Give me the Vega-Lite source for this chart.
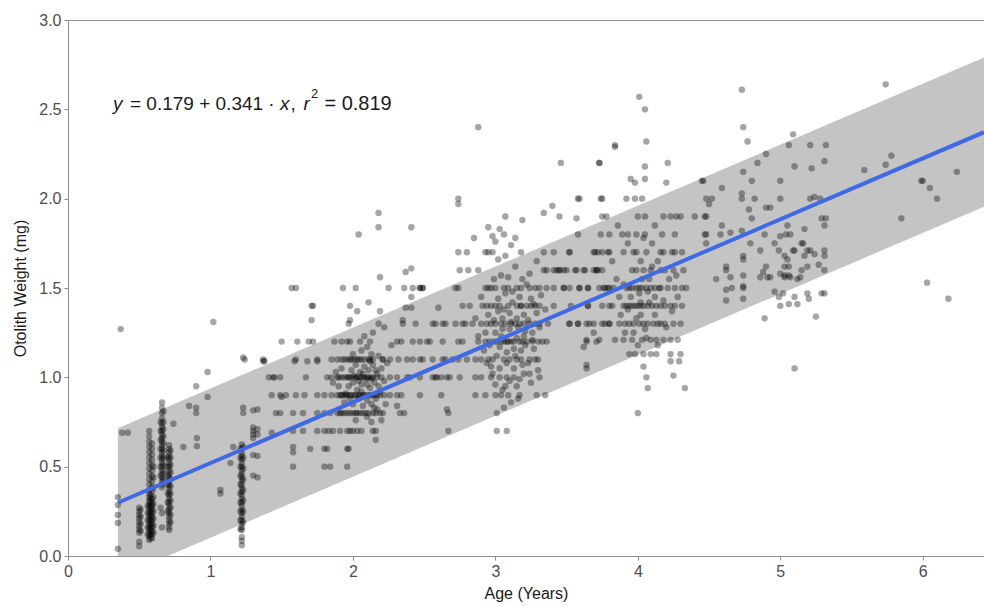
{
"$schema": "https://vega.github.io/schema/vega-lite/v6.json",
"width": 916, "height": 536,
"autosize": {"type": "none"},
"padding": {"left": 68, "top": 20, "right": 0, "bottom": 50},
"background": "white",
"config": {"view": {"stroke": "#8c8c8c", "strokeWidth": 1}, "font": "Liberation Sans"},
"datasets": {
"band": [{"age":0.35,"lo":0,"hi":0.715},{"age":0.70,"lo":0,"hi":0.835},{"age":6.43,"lo":1.955,"hi":2.79}],
"fit": [{"age":0.35,"fit":0.298},{"age":6.43,"fit":2.372}],
"one": [{"k":1}],
"pts": [
{"age":0.35,"wt":0.33},{"age":0.35,"wt":0.285},{"age":0.35,"wt":0.23},{"age":0.35,"wt":0.185},{"age":0.35,"wt":0.04},{"age":0.37,"wt":1.27},{"age":0.38,"wt":0.69},{"age":0.42,"wt":0.69},
{"age":0.50,"wt":0.27},{"age":0.50,"wt":0.25},{"age":0.50,"wt":0.23},{"age":0.50,"wt":0.21},{"age":0.50,"wt":0.19},{"age":0.50,"wt":0.17},{"age":0.50,"wt":0.15},{"age":0.50,"wt":0.13},{"age":0.51,"wt":0.26},{"age":0.51,"wt":0.22},{"age":0.51,"wt":0.18},{"age":0.51,"wt":0.14},{"age":0.50,"wt":0.08},{"age":0.50,"wt":0.055},
{"age":0.57,"wt":0.09},{"age":0.57,"wt":0.11},{"age":0.57,"wt":0.13},{"age":0.57,"wt":0.15},{"age":0.57,"wt":0.17},{"age":0.57,"wt":0.19},{"age":0.57,"wt":0.21},{"age":0.57,"wt":0.23},{"age":0.57,"wt":0.25},{"age":0.57,"wt":0.27},{"age":0.57,"wt":0.29},{"age":0.57,"wt":0.31},{"age":0.57,"wt":0.33},{"age":0.57,"wt":0.35},{"age":0.57,"wt":0.37},{"age":0.57,"wt":0.40},{"age":0.57,"wt":0.43},{"age":0.57,"wt":0.46},{"age":0.57,"wt":0.49},{"age":0.57,"wt":0.52},{"age":0.57,"wt":0.55},{"age":0.57,"wt":0.58},{"age":0.57,"wt":0.61},{"age":0.57,"wt":0.64},{"age":0.57,"wt":0.67},{"age":0.57,"wt":0.70},
{"age":0.59,"wt":0.10},{"age":0.59,"wt":0.12},{"age":0.59,"wt":0.14},{"age":0.59,"wt":0.16},{"age":0.59,"wt":0.18},{"age":0.59,"wt":0.20},{"age":0.59,"wt":0.22},{"age":0.59,"wt":0.24},{"age":0.59,"wt":0.26},{"age":0.59,"wt":0.28},{"age":0.59,"wt":0.30},{"age":0.59,"wt":0.32},{"age":0.59,"wt":0.36},{"age":0.59,"wt":0.39},{"age":0.59,"wt":0.42},{"age":0.59,"wt":0.45},{"age":0.59,"wt":0.48},{"age":0.59,"wt":0.51},{"age":0.59,"wt":0.54},{"age":0.59,"wt":0.57},{"age":0.59,"wt":0.60},{"age":0.59,"wt":0.63},
{"age":0.60,"wt":0.13},{"age":0.60,"wt":0.17},{"age":0.60,"wt":0.21},{"age":0.60,"wt":0.25},{"age":0.60,"wt":0.29},{"age":0.60,"wt":0.33},{"age":0.60,"wt":0.38},{"age":0.60,"wt":0.44},{"age":0.60,"wt":0.50},
{"age":0.58,"wt":0.10},{"age":0.58,"wt":0.12},{"age":0.58,"wt":0.14},{"age":0.58,"wt":0.16},{"age":0.58,"wt":0.18},{"age":0.58,"wt":0.20},{"age":0.58,"wt":0.22},{"age":0.58,"wt":0.24},{"age":0.58,"wt":0.26},{"age":0.58,"wt":0.28},{"age":0.58,"wt":0.30},{"age":0.58,"wt":0.32},{"age":0.58,"wt":0.34},{"age":0.56,"wt":0.12},{"age":0.56,"wt":0.16},{"age":0.56,"wt":0.20},{"age":0.56,"wt":0.24},{"age":0.56,"wt":0.28},
{"age":0.66,"wt":0.86},{"age":0.66,"wt":0.83},{"age":0.66,"wt":0.80},{"age":0.66,"wt":0.77},{"age":0.66,"wt":0.74},{"age":0.66,"wt":0.72},{"age":0.66,"wt":0.70},{"age":0.66,"wt":0.68},{"age":0.66,"wt":0.66},{"age":0.66,"wt":0.64},{"age":0.66,"wt":0.62},{"age":0.66,"wt":0.60},{"age":0.66,"wt":0.58},{"age":0.66,"wt":0.56},{"age":0.66,"wt":0.54},{"age":0.66,"wt":0.52},{"age":0.66,"wt":0.50},{"age":0.66,"wt":0.48},{"age":0.66,"wt":0.46},{"age":0.66,"wt":0.44},{"age":0.66,"wt":0.42},{"age":0.66,"wt":0.40},{"age":0.66,"wt":0.385},
{"age":0.67,"wt":0.81},{"age":0.67,"wt":0.75},{"age":0.67,"wt":0.71},{"age":0.67,"wt":0.67},{"age":0.67,"wt":0.63},{"age":0.67,"wt":0.59},{"age":0.67,"wt":0.55},{"age":0.67,"wt":0.51},{"age":0.67,"wt":0.47},{"age":0.67,"wt":0.43},{"age":0.66,"wt":0.24},{"age":0.66,"wt":0.16},{"age":0.65,"wt":0.27},
{"age":0.65,"wt":0.45},{"age":0.65,"wt":0.50},{"age":0.65,"wt":0.55},{"age":0.65,"wt":0.60},{"age":0.65,"wt":0.65},{"age":0.65,"wt":0.70},{"age":0.65,"wt":0.75},
{"age":0.71,"wt":0.62},{"age":0.71,"wt":0.60},{"age":0.71,"wt":0.58},{"age":0.71,"wt":0.56},{"age":0.71,"wt":0.54},{"age":0.71,"wt":0.52},{"age":0.71,"wt":0.50},{"age":0.71,"wt":0.48},{"age":0.71,"wt":0.46},{"age":0.71,"wt":0.44},{"age":0.71,"wt":0.42},{"age":0.71,"wt":0.40},{"age":0.71,"wt":0.38},{"age":0.71,"wt":0.36},{"age":0.71,"wt":0.34},{"age":0.71,"wt":0.32},{"age":0.71,"wt":0.30},{"age":0.71,"wt":0.28},{"age":0.71,"wt":0.26},{"age":0.71,"wt":0.24},{"age":0.71,"wt":0.22},{"age":0.71,"wt":0.20},{"age":0.71,"wt":0.18},{"age":0.71,"wt":0.16},{"age":0.71,"wt":0.145},
{"age":0.72,"wt":0.59},{"age":0.72,"wt":0.55},{"age":0.72,"wt":0.51},{"age":0.72,"wt":0.47},{"age":0.72,"wt":0.43},{"age":0.72,"wt":0.39},{"age":0.72,"wt":0.35},{"age":0.72,"wt":0.31},{"age":0.72,"wt":0.27},{"age":0.72,"wt":0.23},{"age":0.72,"wt":0.19},
{"age":0.70,"wt":0.25},{"age":0.70,"wt":0.30},{"age":0.70,"wt":0.35},{"age":0.70,"wt":0.40},{"age":0.70,"wt":0.45},{"age":0.70,"wt":0.50},{"age":0.70,"wt":0.55},
{"age":0.74,"wt":0.74},{"age":0.81,"wt":0.61},{"age":0.905,"wt":0.66},{"age":0.905,"wt":0.615},{"age":0.85,"wt":0.84},{"age":0.90,"wt":0.83},{"age":0.90,"wt":0.80},{"age":0.98,"wt":1.03},{"age":0.98,"wt":0.89},{"age":0.90,"wt":0.95},{"age":1.02,"wt":1.31},{"age":1.07,"wt":0.37},{"age":1.07,"wt":0.35},
{"age":1.22,"wt":0.625},{"age":1.22,"wt":0.60},{"age":1.22,"wt":0.58},{"age":1.22,"wt":0.56},{"age":1.22,"wt":0.54},{"age":1.22,"wt":0.52},{"age":1.22,"wt":0.50},{"age":1.22,"wt":0.48},{"age":1.22,"wt":0.46},{"age":1.22,"wt":0.44},{"age":1.22,"wt":0.42},{"age":1.22,"wt":0.40},{"age":1.22,"wt":0.38},{"age":1.22,"wt":0.36},{"age":1.22,"wt":0.34},{"age":1.22,"wt":0.32},{"age":1.22,"wt":0.30},{"age":1.22,"wt":0.28},{"age":1.22,"wt":0.26},{"age":1.22,"wt":0.24},{"age":1.22,"wt":0.22},{"age":1.22,"wt":0.20},{"age":1.22,"wt":0.18},{"age":1.22,"wt":0.16},{"age":1.22,"wt":0.145},{"age":1.22,"wt":0.105},{"age":1.22,"wt":0.085},{"age":1.22,"wt":0.06},
{"age":1.23,"wt":0.61},{"age":1.23,"wt":0.55},{"age":1.23,"wt":0.49},{"age":1.23,"wt":0.43},{"age":1.23,"wt":0.37},{"age":1.23,"wt":0.31},{"age":1.23,"wt":0.25},{"age":1.23,"wt":0.19},
{"age":1.21,"wt":0.15},{"age":1.21,"wt":0.20},{"age":1.21,"wt":0.25},{"age":1.21,"wt":0.30},{"age":1.21,"wt":0.35},{"age":1.21,"wt":0.40},{"age":1.21,"wt":0.45},{"age":1.21,"wt":0.50},{"age":1.21,"wt":0.55},{"age":1.21,"wt":0.60},
{"age":1.23,"wt":0.83},{"age":1.23,"wt":0.80},{"age":1.23,"wt":1.11},{"age":1.24,"wt":1.10},{"age":1.16,"wt":0.61},{"age":1.14,"wt":0.52},
{"age":1.30,"wt":0.72},{"age":1.30,"wt":0.70},{"age":1.30,"wt":0.68},{"age":1.30,"wt":0.66},{"age":1.30,"wt":0.565},{"age":1.30,"wt":0.45},{"age":1.30,"wt":0.815},
{"age":1.37,"wt":1.09},{"age":1.43,"wt":0.69},{"age":1.58,"wt":0.61},{"age":1.58,"wt":0.58},{"age":1.70,"wt":0.60},{"age":1.45,"wt":1.0},{"age":1.50,"wt":0.89},{"age":1.50,"wt":1.20},{"age":1.61,"wt":1.20},{"age":1.69,"wt":1.2},{"age":1.72,"wt":1.2},{"age":1.72,"wt":1.40},{"age":1.59,"wt":1.09},{"age":1.68,"wt":1.09},{"age":1.75,"wt":1.09},{"age":1.57,"wt":1.50},
{"age":1.58,"wt":0.5},{"age":1.80,"wt":0.5},{"age":1.84,"wt":0.5},{"age":1.96,"wt":0.5},
{"age":1.80,"wt":0.6},{"age":1.82,"wt":0.6},{"age":1.96,"wt":0.6},{"age":1.97,"wt":0.6},
{"age":1.58,"wt":0.7},{"age":1.65,"wt":0.7},{"age":1.75,"wt":0.7},{"age":1.80,"wt":0.7},{"age":1.83,"wt":0.7},{"age":1.86,"wt":0.7},{"age":1.91,"wt":0.7},{"age":1.96,"wt":0.7},{"age":1.98,"wt":0.7},{"age":2.00,"wt":0.7},{"age":2.03,"wt":0.7},{"age":2.06,"wt":0.7},{"age":2.14,"wt":0.7},
{"age":1.46,"wt":0.8},{"age":1.49,"wt":0.8},{"age":1.58,"wt":0.8},{"age":1.65,"wt":0.8},{"age":1.75,"wt":0.8},{"age":1.80,"wt":0.8},{"age":1.84,"wt":0.8},{"age":1.89,"wt":0.8},{"age":1.91,"wt":0.8},{"age":1.94,"wt":0.8},{"age":1.98,"wt":0.8},{"age":2.00,"wt":0.8},{"age":2.03,"wt":0.8},{"age":2.05,"wt":0.8},{"age":2.07,"wt":0.8},{"age":2.11,"wt":0.8},{"age":2.14,"wt":0.8},{"age":2.19,"wt":0.8},{"age":2.21,"wt":0.8},{"age":2.33,"wt":0.8},
{"age":1.43,"wt":0.9},{"age":1.49,"wt":0.9},{"age":1.53,"wt":0.9},{"age":1.60,"wt":0.9},{"age":1.66,"wt":0.9},{"age":1.75,"wt":0.9},{"age":1.80,"wt":0.9},{"age":1.85,"wt":0.9},{"age":1.89,"wt":0.9},{"age":1.91,"wt":0.9},{"age":1.93,"wt":0.9},{"age":1.96,"wt":0.9},{"age":1.98,"wt":0.9},{"age":2.01,"wt":0.9},{"age":2.05,"wt":0.9},{"age":2.08,"wt":0.9},{"age":2.12,"wt":0.9},{"age":2.15,"wt":0.9},{"age":2.19,"wt":0.9},{"age":2.22,"wt":0.9},{"age":2.26,"wt":0.9},{"age":2.31,"wt":0.9},{"age":2.34,"wt":0.9},{"age":2.47,"wt":0.9},{"age":2.62,"wt":0.9},
{"age":1.41,"wt":1.0},{"age":1.44,"wt":1.0},{"age":1.49,"wt":1.0},{"age":1.67,"wt":1.0},{"age":1.82,"wt":1.0},{"age":1.85,"wt":1.0},{"age":1.89,"wt":1.0},{"age":1.92,"wt":1.0},{"age":1.96,"wt":1.0},{"age":1.98,"wt":1.0},{"age":2.03,"wt":1.0},{"age":2.06,"wt":1.0},{"age":2.11,"wt":1.0},{"age":2.14,"wt":1.0},{"age":2.20,"wt":1.0},{"age":2.26,"wt":1.0},{"age":2.31,"wt":1.0},{"age":2.38,"wt":1.0},{"age":2.40,"wt":1.0},{"age":2.47,"wt":1.0},{"age":2.56,"wt":1.0},{"age":2.59,"wt":1.0},{"age":2.62,"wt":1.0},{"age":2.66,"wt":1.0},{"age":2.75,"wt":1.0},
{"age":1.37,"wt":1.1},{"age":1.60,"wt":1.1},{"age":1.75,"wt":1.1},{"age":1.85,"wt":1.1},{"age":1.89,"wt":1.1},{"age":1.92,"wt":1.1},{"age":1.96,"wt":1.1},{"age":1.99,"wt":1.1},{"age":2.03,"wt":1.1},{"age":2.06,"wt":1.1},{"age":2.11,"wt":1.1},{"age":2.14,"wt":1.1},{"age":2.21,"wt":1.1},{"age":2.26,"wt":1.1},{"age":2.32,"wt":1.1},{"age":2.38,"wt":1.1},{"age":2.42,"wt":1.1},{"age":2.47,"wt":1.1},{"age":2.49,"wt":1.1},{"age":2.56,"wt":1.1},{"age":2.63,"wt":1.1},{"age":2.70,"wt":1.1},{"age":2.74,"wt":1.1},{"age":2.80,"wt":1.1},
{"age":1.87,"wt":1.2},{"age":1.92,"wt":1.2},{"age":1.96,"wt":1.2},{"age":1.98,"wt":1.2},{"age":2.05,"wt":1.2},{"age":2.12,"wt":1.2},{"age":2.31,"wt":1.2},{"age":2.34,"wt":1.2},{"age":2.42,"wt":1.2},{"age":2.47,"wt":1.2},{"age":2.54,"wt":1.2},{"age":2.63,"wt":1.2},{"age":2.74,"wt":1.2},
{"age":1.97,"wt":1.3},{"age":2.18,"wt":1.3},{"age":2.35,"wt":1.3},{"age":2.44,"wt":1.3},{"age":2.58,"wt":1.3},{"age":2.63,"wt":1.3},{"age":2.72,"wt":1.3},{"age":2.77,"wt":1.3},
{"age":1.60,"wt":1.5},{"age":1.93,"wt":1.5},{"age":2.02,"wt":1.5},{"age":2.25,"wt":1.5},{"age":2.36,"wt":1.5},{"age":2.42,"wt":1.5},{"age":2.47,"wt":1.5},{"age":2.49,"wt":1.5},
{"age":1.97,"wt":0.95},{"age":2.0,"wt":0.97},{"age":2.03,"wt":0.93},{"age":2.06,"wt":0.96},{"age":2.09,"wt":0.99},{"age":2.12,"wt":0.94},{"age":2.15,"wt":0.97},{"age":2.05,"wt":1.03},{"age":2.08,"wt":1.06},{"age":2.11,"wt":1.04},{"age":2.14,"wt":1.07},{"age":2.17,"wt":1.02},{"age":2.02,"wt":1.07},{"age":1.99,"wt":1.04},{"age":2.10,"wt":0.87},{"age":2.13,"wt":0.85},{"age":2.07,"wt":0.84},{"age":2.16,"wt":0.88},{"age":2.19,"wt":0.92},{"age":2.20,"wt":1.05},{"age":2.22,"wt":0.98},{"age":2.04,"wt":0.88},{"age":1.94,"wt":0.86},{"age":1.92,"wt":1.05},{"age":2.00,"wt":1.13},{"age":2.06,"wt":1.15},{"age":2.13,"wt":1.13},{"age":2.18,"wt":1.12},{"age":2.24,"wt":1.08},{"age":2.23,"wt":0.85},{"age":2.17,"wt":0.82},{"age":2.10,"wt":0.78},{"age":2.02,"wt":0.76},{"age":2.13,"wt":0.75},{"age":2.20,"wt":0.76},{"age":1.90,"wt":0.95},{"age":1.88,"wt":1.03},{"age":1.86,"wt":0.97},
{"age":1.92,"wt":0.9},{"age":1.95,"wt":0.9},{"age":1.99,"wt":0.9},{"age":2.02,"wt":0.9},{"age":2.04,"wt":0.9},{"age":2.07,"wt":0.9},{"age":2.10,"wt":0.9},{"age":2.13,"wt":0.9},{"age":2.17,"wt":0.9},
{"age":1.90,"wt":1.0},{"age":1.94,"wt":1.0},{"age":1.97,"wt":1.0},{"age":2.00,"wt":1.0},{"age":2.02,"wt":1.0},{"age":2.05,"wt":1.0},{"age":2.08,"wt":1.0},{"age":2.10,"wt":1.0},{"age":2.13,"wt":1.0},{"age":2.17,"wt":1.0},
{"age":1.94,"wt":1.1},{"age":1.98,"wt":1.1},{"age":2.01,"wt":1.1},{"age":2.04,"wt":1.1},{"age":2.08,"wt":1.1},{"age":2.12,"wt":1.1},
{"age":1.92,"wt":0.8},{"age":1.96,"wt":0.8},{"age":2.02,"wt":0.8},{"age":2.09,"wt":0.8},{"age":2.16,"wt":0.8},
{"age":1.95,"wt":0.91},{"age":1.98,"wt":0.88},{"age":2.01,"wt":1.01},{"age":2.04,"wt":0.98},{"age":2.07,"wt":1.02},{"age":2.10,"wt":0.96},{"age":2.13,"wt":0.99},{"age":2.16,"wt":1.04},{"age":2.18,"wt":0.95},{"age":2.12,"wt":1.09},{"age":2.06,"wt":0.92},{"age":2.00,"wt":0.85},{"age":2.21,"wt":1.10},{"age":2.15,"wt":0.83},
{"age":2.18,"wt":1.92},{"age":2.18,"wt":1.84},{"age":2.04,"wt":1.80},{"age":2.41,"wt":1.84},{"age":2.74,"wt":1.97},{"age":2.19,"wt":1.56},{"age":2.37,"wt":1.59},{"age":2.41,"wt":1.61},{"age":1.71,"wt":1.40},{"age":1.98,"wt":1.40},{"age":2.11,"wt":1.42},{"age":2.03,"wt":1.37},{"age":2.19,"wt":1.37},{"age":1.98,"wt":1.32},{"age":2.35,"wt":1.32},{"age":1.71,"wt":1.32},{"age":2.37,"wt":1.39},{"age":2.41,"wt":1.39},{"age":2.60,"wt":1.39},{"age":2.41,"wt":1.45},{"age":1.33,"wt":0.44},{"age":1.33,"wt":0.56},{"age":1.33,"wt":0.68},{"age":1.33,"wt":0.71},{"age":1.33,"wt":0.82},{"age":1.38,"wt":1.09},{"age":2.67,"wt":0.70},{"age":2.66,"wt":0.82},{"age":2.16,"wt":0.65},{"age":2.16,"wt":0.70},{"age":2.36,"wt":0.80},{"age":2.31,"wt":0.84},{"age":2.14,"wt":1.25},{"age":2.22,"wt":1.28},{"age":2.08,"wt":1.23},{"age":2.27,"wt":1.18},{"age":2.10,"wt":1.17},
{"age":2.74,"wt":1.7},{"age":2.80,"wt":1.7},{"age":2.93,"wt":1.7},{"age":2.95,"wt":1.7},{"age":2.98,"wt":1.7},{"age":3.18,"wt":1.7},{"age":3.34,"wt":1.7},{"age":3.41,"wt":1.7},{"age":3.52,"wt":1.7},{"age":3.69,"wt":1.7},{"age":3.75,"wt":1.7},{"age":3.80,"wt":1.7},
{"age":2.75,"wt":1.6},{"age":2.81,"wt":1.6},{"age":2.88,"wt":1.6},{"age":3.34,"wt":1.6},{"age":3.36,"wt":1.6},{"age":3.41,"wt":1.6},{"age":3.43,"wt":1.6},{"age":3.45,"wt":1.6},{"age":3.50,"wt":1.6},{"age":3.56,"wt":1.6},{"age":3.62,"wt":1.6},{"age":3.69,"wt":1.6},{"age":3.71,"wt":1.6},{"age":3.75,"wt":1.6},
{"age":2.47,"wt":1.5},{"age":2.49,"wt":1.5},{"age":2.72,"wt":1.5},{"age":2.74,"wt":1.5},{"age":2.93,"wt":1.5},{"age":2.95,"wt":1.5},{"age":2.97,"wt":1.5},{"age":3.00,"wt":1.5},{"age":3.06,"wt":1.5},{"age":3.09,"wt":1.5},{"age":3.15,"wt":1.5},{"age":3.18,"wt":1.5},{"age":3.24,"wt":1.5},{"age":3.28,"wt":1.5},{"age":3.31,"wt":1.5},{"age":3.36,"wt":1.5},{"age":3.41,"wt":1.5},{"age":3.48,"wt":1.5},{"age":3.59,"wt":1.5},{"age":3.65,"wt":1.5},{"age":3.73,"wt":1.5},{"age":3.77,"wt":1.5},{"age":3.80,"wt":1.5},
{"age":2.77,"wt":1.4},{"age":2.82,"wt":1.4},{"age":2.91,"wt":1.4},{"age":2.94,"wt":1.4},{"age":2.97,"wt":1.4},{"age":3.03,"wt":1.4},{"age":3.15,"wt":1.4},{"age":3.22,"wt":1.4},{"age":3.28,"wt":1.4},{"age":3.31,"wt":1.4},{"age":3.41,"wt":1.4},{"age":3.53,"wt":1.4},{"age":3.65,"wt":1.4},{"age":3.75,"wt":1.4},{"age":3.82,"wt":1.4},
{"age":2.56,"wt":1.3},{"age":2.65,"wt":1.3},{"age":2.79,"wt":1.3},{"age":2.84,"wt":1.3},{"age":2.90,"wt":1.3},{"age":2.94,"wt":1.3},{"age":2.97,"wt":1.3},{"age":3.04,"wt":1.3},{"age":3.11,"wt":1.3},{"age":3.17,"wt":1.3},{"age":3.24,"wt":1.3},{"age":3.28,"wt":1.3},{"age":3.31,"wt":1.3},{"age":3.37,"wt":1.3},{"age":3.52,"wt":1.3},{"age":3.58,"wt":1.3},{"age":3.66,"wt":1.3},{"age":3.75,"wt":1.3},{"age":3.80,"wt":1.3},
{"age":2.52,"wt":1.2},{"age":2.77,"wt":1.2},{"age":2.88,"wt":1.2},{"age":2.93,"wt":1.2},{"age":2.96,"wt":1.2},{"age":3.01,"wt":1.2},{"age":3.06,"wt":1.2},{"age":3.08,"wt":1.2},{"age":3.13,"wt":1.2},{"age":3.17,"wt":1.2},{"age":3.22,"wt":1.2},{"age":3.30,"wt":1.2},{"age":3.36,"wt":1.2},{"age":3.64,"wt":1.2},{"age":3.71,"wt":1.2},
{"age":2.65,"wt":1.1},{"age":2.86,"wt":1.1},{"age":2.90,"wt":1.1},{"age":2.95,"wt":1.1},{"age":2.98,"wt":1.1},{"age":3.06,"wt":1.1},{"age":3.10,"wt":1.1},{"age":3.15,"wt":1.1},{"age":3.18,"wt":1.1},{"age":3.24,"wt":1.1},{"age":3.30,"wt":1.1},
{"age":2.58,"wt":1.0},{"age":2.68,"wt":1.0},{"age":2.86,"wt":1.0},{"age":2.90,"wt":1.0},{"age":2.97,"wt":1.0},{"age":3.03,"wt":1.0},{"age":3.08,"wt":1.0},{"age":3.13,"wt":1.0},{"age":3.31,"wt":1.0},
{"age":2.86,"wt":0.9},{"age":2.93,"wt":0.9},{"age":3.00,"wt":0.9},{"age":3.04,"wt":0.9},{"age":3.09,"wt":0.9},{"age":3.17,"wt":0.9},{"age":3.29,"wt":0.9},{"age":3.35,"wt":0.9},
{"age":2.67,"wt":0.8},{"age":3.01,"wt":0.8},{"age":3.01,"wt":0.7},{"age":3.08,"wt":0.7},
{"age":2.90,"wt":1.45},{"age":2.95,"wt":1.35},{"age":3.00,"wt":1.25},{"age":3.05,"wt":1.33},{"age":3.10,"wt":1.27},{"age":3.15,"wt":1.22},{"age":3.20,"wt":1.35},{"age":3.25,"wt":1.44},{"age":3.03,"wt":1.17},{"age":3.08,"wt":1.14},{"age":3.13,"wt":1.05},{"age":3.18,"wt":1.15},{"age":3.23,"wt":1.08},{"age":3.27,"wt":1.16},{"age":2.97,"wt":1.06},{"age":2.92,"wt":1.15},{"age":2.88,"wt":1.23},{"age":2.86,"wt":1.33},{"age":3.02,"wt":1.44},{"age":3.07,"wt":1.47},{"age":3.12,"wt":1.42},{"age":3.17,"wt":1.45},{"age":3.21,"wt":1.26},{"age":3.26,"wt":1.25},{"age":3.29,"wt":1.36},{"age":3.32,"wt":1.46},{"age":3.00,"wt":0.96},{"age":3.05,"wt":0.93},{"age":3.10,"wt":0.98},{"age":3.15,"wt":0.95},{"age":3.20,"wt":1.02},{"age":3.25,"wt":0.97},{"age":3.30,"wt":1.04},{"age":3.11,"wt":0.86},{"age":3.06,"wt":0.83},{"age":3.16,"wt":0.88},{"age":2.99,"wt":1.55},{"age":3.04,"wt":1.57},{"age":3.09,"wt":1.56},{"age":3.14,"wt":1.62},{"age":3.19,"wt":1.55},{"age":3.24,"wt":1.58},{"age":3.29,"wt":1.65},{"age":3.02,"wt":1.66},{"age":3.07,"wt":1.68},{"age":3.11,"wt":1.74},{"age":3.00,"wt":1.76},{"age":3.06,"wt":1.80},{"age":3.14,"wt":1.78},{"age":2.95,"wt":1.84},
{"age":2.93,"wt":1.25},{"age":2.96,"wt":1.18},{"age":2.99,"wt":1.32},{"age":3.01,"wt":1.12},{"age":3.04,"wt":1.23},{"age":3.06,"wt":1.38},{"age":3.09,"wt":1.20},{"age":3.11,"wt":1.31},{"age":3.13,"wt":1.16},{"age":3.16,"wt":1.28},{"age":3.18,"wt":1.40},{"age":3.21,"wt":1.18},{"age":3.23,"wt":1.32},{"age":3.26,"wt":1.21},{"age":3.28,"wt":1.10},{"age":3.31,"wt":1.28},{"age":3.03,"wt":1.05},{"age":3.08,"wt":1.08},{"age":3.14,"wt":1.12},{"age":3.19,"wt":1.07},{"age":3.24,"wt":1.02},{"age":2.98,"wt":1.02},{"age":3.07,"wt":0.95},{"age":3.17,"wt":0.99},{"age":3.12,"wt":1.48},{"age":3.22,"wt":1.52},{"age":3.02,"wt":1.37},{"age":3.27,"wt":1.41},{"age":3.33,"wt":1.20},{"age":3.35,"wt":1.38},{"age":2.94,"wt":1.08},{"age":3.10,"wt":1.36},{"age":3.15,"wt":1.33},{"age":3.05,"wt":1.27},{"age":3.20,"wt":1.23},
{"age":2.99,"wt":1.2},{"age":3.04,"wt":1.2},{"age":3.11,"wt":1.2},{"age":3.19,"wt":1.2},{"age":3.26,"wt":1.2},{"age":3.00,"wt":1.3},{"age":3.07,"wt":1.3},{"age":3.14,"wt":1.3},{"age":3.20,"wt":1.3},{"age":3.00,"wt":1.4},{"age":3.09,"wt":1.4},{"age":3.18,"wt":1.4},{"age":3.25,"wt":1.4},
{"age":2.88,"wt":2.40},{"age":3.46,"wt":2.20},{"age":3.73,"wt":2.20},{"age":3.84,"wt":2.29},{"age":2.74,"wt":2.0},{"age":3.07,"wt":1.90},{"age":3.19,"wt":1.88},{"age":3.34,"wt":1.92},{"age":3.40,"wt":1.96},{"age":3.45,"wt":1.90},{"age":3.57,"wt":1.89},{"age":3.58,"wt":2.0},{"age":3.74,"wt":2.0},{"age":2.85,"wt":1.78},{"age":3.03,"wt":1.83},{"age":2.98,"wt":1.79},{"age":3.64,"wt":1.05},{"age":3.62,"wt":1.17},{"age":3.69,"wt":1.25},
{"age":3.45,"wt":1.6},{"age":3.48,"wt":1.6},{"age":3.57,"wt":1.6},{"age":3.63,"wt":1.6},{"age":3.71,"wt":1.6},{"age":3.72,"wt":1.6},{"age":3.99,"wt":1.6},{"age":4.04,"wt":1.6},{"age":4.09,"wt":1.6},{"age":4.16,"wt":1.6},{"age":4.19,"wt":1.6},{"age":4.25,"wt":1.6},{"age":4.32,"wt":1.6},
{"age":3.48,"wt":1.5},{"age":3.52,"wt":1.5},{"age":3.59,"wt":1.5},{"age":3.65,"wt":1.5},{"age":3.76,"wt":1.5},{"age":3.79,"wt":1.5},{"age":3.83,"wt":1.5},{"age":3.92,"wt":1.5},{"age":3.96,"wt":1.5},{"age":3.99,"wt":1.5},{"age":4.03,"wt":1.5},{"age":4.06,"wt":1.5},{"age":4.09,"wt":1.5},{"age":4.16,"wt":1.5},{"age":4.21,"wt":1.5},{"age":4.26,"wt":1.5},{"age":4.31,"wt":1.5},{"age":4.34,"wt":1.5},
{"age":3.65,"wt":1.4},{"age":3.80,"wt":1.4},{"age":3.90,"wt":1.4},{"age":3.92,"wt":1.4},{"age":3.94,"wt":1.4},{"age":3.98,"wt":1.4},{"age":4.00,"wt":1.4},{"age":4.04,"wt":1.4},{"age":4.07,"wt":1.4},{"age":4.16,"wt":1.4},{"age":4.19,"wt":1.4},{"age":4.23,"wt":1.4},{"age":4.26,"wt":1.4},{"age":4.31,"wt":1.4},
{"age":3.52,"wt":1.3},{"age":3.58,"wt":1.3},{"age":3.64,"wt":1.3},{"age":3.69,"wt":1.3},{"age":3.77,"wt":1.3},{"age":3.80,"wt":1.3},{"age":3.87,"wt":1.3},{"age":3.94,"wt":1.3},{"age":3.97,"wt":1.3},{"age":4.01,"wt":1.3},{"age":4.07,"wt":1.3},{"age":4.11,"wt":1.3},{"age":4.16,"wt":1.3},{"age":4.19,"wt":1.3},{"age":4.25,"wt":1.3},{"age":4.30,"wt":1.3},
{"age":3.52,"wt":1.7},{"age":3.70,"wt":1.7},{"age":3.72,"wt":1.7},{"age":3.79,"wt":1.7},{"age":3.90,"wt":1.7},{"age":3.99,"wt":1.7},{"age":4.06,"wt":1.7},{"age":4.16,"wt":1.7},{"age":4.18,"wt":1.7},{"age":4.24,"wt":1.7},{"age":4.26,"wt":1.7},{"age":4.31,"wt":1.7},
{"age":3.58,"wt":1.8},{"age":3.74,"wt":1.8},{"age":3.80,"wt":1.8},{"age":3.89,"wt":1.8},{"age":3.93,"wt":1.8},{"age":3.99,"wt":1.8},{"age":4.05,"wt":1.8},{"age":4.17,"wt":1.8},{"age":4.26,"wt":1.8},
{"age":3.75,"wt":1.9},{"age":3.78,"wt":1.9},{"age":4.00,"wt":1.9},{"age":4.05,"wt":1.9},{"age":4.18,"wt":1.9},{"age":4.23,"wt":1.9},{"age":4.27,"wt":1.9},{"age":4.30,"wt":1.9},{"age":4.40,"wt":1.9},{"age":4.47,"wt":1.9},
{"age":3.64,"wt":1.21},{"age":3.73,"wt":1.21},{"age":3.84,"wt":1.21},{"age":3.90,"wt":1.21},{"age":3.96,"wt":1.21},{"age":4.03,"wt":1.21},{"age":4.09,"wt":1.21},{"age":4.13,"wt":1.21},{"age":4.18,"wt":1.21},{"age":4.23,"wt":1.21},{"age":4.28,"wt":1.21},
{"age":3.94,"wt":1.13},{"age":3.98,"wt":1.13},{"age":4.04,"wt":1.13},{"age":4.09,"wt":1.13},{"age":4.13,"wt":1.13},{"age":4.23,"wt":1.13},{"age":4.30,"wt":1.13},
{"age":4.00,"wt":0.80},{"age":4.07,"wt":0.94},{"age":4.33,"wt":0.94},{"age":4.25,"wt":1.01},{"age":4.06,"wt":1.0},{"age":4.04,"wt":1.06},{"age":4.23,"wt":1.09},{"age":4.29,"wt":1.09},{"age":3.64,"wt":1.07},
{"age":4.01,"wt":2.57},{"age":4.05,"wt":2.50},{"age":4.06,"wt":2.32},{"age":3.84,"wt":2.30},{"age":3.73,"wt":2.20},{"age":4.21,"wt":2.20},{"age":4.05,"wt":2.18},{"age":3.95,"wt":2.11},{"age":3.98,"wt":2.09},{"age":4.05,"wt":2.11},{"age":4.20,"wt":2.09},{"age":3.59,"wt":2.0},{"age":3.75,"wt":2.0},{"age":3.92,"wt":2.0},{"age":3.98,"wt":2.0},{"age":4.03,"wt":2.0},{"age":4.45,"wt":2.10},
{"age":4.62,"wt":1.60},{"age":4.62,"wt":1.43},{"age":4.74,"wt":1.44},{"age":4.66,"wt":1.50},{"age":4.74,"wt":1.51},{"age":4.74,"wt":1.66},{"age":4.50,"wt":1.97},{"age":4.47,"wt":1.80},{"age":4.55,"wt":1.55},
{"age":3.85,"wt":1.55},{"age":3.95,"wt":1.45},{"age":4.02,"wt":1.35},{"age":4.12,"wt":1.45},{"age":4.08,"wt":1.55},{"age":3.88,"wt":1.35},{"age":3.97,"wt":1.25},{"age":4.14,"wt":1.65},{"age":4.22,"wt":1.55},{"age":4.28,"wt":1.45},{"age":3.82,"wt":1.65},{"age":3.93,"wt":1.75},{"age":4.10,"wt":1.75},{"age":4.02,"wt":1.65},
{"age":3.87,"wt":1.45},{"age":3.90,"wt":1.52},{"age":3.93,"wt":1.38},{"age":3.96,"wt":1.60},{"age":3.99,"wt":1.33},{"age":4.01,"wt":1.47},{"age":4.03,"wt":1.55},{"age":4.05,"wt":1.27},{"age":4.08,"wt":1.42},{"age":4.10,"wt":1.62},{"age":4.12,"wt":1.35},{"age":4.15,"wt":1.50},{"age":4.18,"wt":1.43},{"age":4.20,"wt":1.28},{"age":4.24,"wt":1.37},{"age":4.27,"wt":1.57},{"age":3.91,"wt":1.25},{"age":4.00,"wt":1.18},{"age":4.06,"wt":1.22},{"age":4.14,"wt":1.18},{"age":3.97,"wt":1.70},{"age":4.04,"wt":1.78},{"age":4.12,"wt":1.85},{"age":3.86,"wt":1.85},{"age":4.02,"wt":1.42},{"age":4.07,"wt":1.48},
{"age":3.96,"wt":1.4},{"age":4.02,"wt":1.4},{"age":4.10,"wt":1.4},{"age":4.13,"wt":1.4},{"age":3.94,"wt":1.5},{"age":4.01,"wt":1.5},{"age":4.12,"wt":1.5},{"age":3.91,"wt":1.3},{"age":4.04,"wt":1.3},{"age":4.14,"wt":1.3},
{"age":4.73,"wt":2.61},{"age":4.74,"wt":2.40},{"age":4.77,"wt":2.32},{"age":5.09,"wt":2.36},{"age":5.06,"wt":2.30},{"age":5.21,"wt":2.30},{"age":5.32,"wt":2.30},{"age":5.31,"wt":2.21},{"age":4.90,"wt":2.25},{"age":4.84,"wt":2.20},{"age":5.10,"wt":2.18},{"age":5.22,"wt":2.17},{"age":4.74,"wt":2.15},{"age":4.80,"wt":2.10},{"age":5.00,"wt":2.10},{"age":4.46,"wt":2.10},{"age":4.59,"wt":2.06},{"age":4.48,"wt":2.0},{"age":4.52,"wt":2.0},{"age":4.73,"wt":2.03},{"age":4.73,"wt":2.0},{"age":4.82,"wt":2.0},{"age":5.0,"wt":2.0},{"age":5.21,"wt":2.0},{"age":5.24,"wt":2.01},{"age":5.28,"wt":2.0},{"age":4.90,"wt":1.95},{"age":4.93,"wt":1.95},{"age":4.78,"wt":1.94},{"age":4.48,"wt":1.90},{"age":4.80,"wt":1.89},{"age":5.29,"wt":1.89},{"age":5.32,"wt":1.89},{"age":5.31,"wt":1.85},{"age":4.59,"wt":1.85},{"age":4.48,"wt":1.8},{"age":4.58,"wt":1.8},{"age":4.65,"wt":1.81},{"age":4.73,"wt":1.82},{"age":4.89,"wt":1.80},{"age":5.05,"wt":1.85},{"age":5.04,"wt":1.80},{"age":5.07,"wt":1.80},{"age":5.17,"wt":1.83},{"age":4.48,"wt":1.75},{"age":4.79,"wt":1.75},{"age":5.00,"wt":1.79},{"age":4.96,"wt":1.75},{"age":5.15,"wt":1.75},{"age":5.16,"wt":1.75},{"age":4.86,"wt":1.71},{"age":4.99,"wt":1.71},{"age":5.09,"wt":1.71},{"age":5.10,"wt":1.71},{"age":5.19,"wt":1.71},{"age":5.21,"wt":1.71},{"age":5.24,"wt":1.69},{"age":5.31,"wt":1.71},{"age":5.31,"wt":1.68},{"age":4.74,"wt":1.68},{"age":5.03,"wt":1.68},{"age":5.05,"wt":1.66},{"age":5.17,"wt":1.68},{"age":4.62,"wt":1.62},{"age":4.90,"wt":1.62},{"age":5.03,"wt":1.62},{"age":5.06,"wt":1.62},{"age":5.19,"wt":1.62},{"age":5.27,"wt":1.63},{"age":5.15,"wt":1.60},{"age":4.88,"wt":1.59},{"age":5.31,"wt":1.60},{"age":5.0,"wt":1.58},{"age":5.03,"wt":1.57},{"age":5.06,"wt":1.57},{"age":4.93,"wt":1.56},{"age":4.91,"wt":1.56},{"age":4.65,"wt":1.56},{"age":4.74,"wt":1.57},{"age":4.86,"wt":1.56},{"age":5.03,"wt":1.56},{"age":5.07,"wt":1.56},{"age":5.12,"wt":1.55},{"age":5.14,"wt":1.56},{"age":4.62,"wt":1.49},{"age":4.74,"wt":1.50},{"age":4.96,"wt":1.48},{"age":4.99,"wt":1.45},{"age":5.02,"wt":1.47},{"age":5.10,"wt":1.45},{"age":5.19,"wt":1.47},{"age":5.20,"wt":1.44},{"age":5.29,"wt":1.47},{"age":5.31,"wt":1.47},{"age":5.00,"wt":1.40},{"age":5.06,"wt":1.41},{"age":5.12,"wt":1.41},{"age":4.89,"wt":1.33},{"age":5.25,"wt":1.34},{"age":5.10,"wt":1.05},
{"age":5.74,"wt":2.64},{"age":5.59,"wt":2.16},{"age":5.74,"wt":2.19},{"age":5.78,"wt":2.24},{"age":5.99,"wt":2.10},{"age":6.00,"wt":2.10},{"age":6.05,"wt":2.06},{"age":6.10,"wt":2.0},{"age":6.24,"wt":2.15},{"age":5.85,"wt":1.89},{"age":6.03,"wt":1.53},{"age":6.18,"wt":1.44}
]
},
"layer": [
{"data": {"name": "band"}, "mark": {"type": "area", "color": "#c4c4c4", "opacity": 1},
 "encoding": {
  "x": {"field": "age", "type": "quantitative", "scale": {"domain": [0, 6.43], "nice": false, "zero": false},
        "axis": {"title": "Age (Years)", "values": [0,1,2,3,4,5,6], "format": "d", "grid": false, "labelFlush": false,
                 "domainColor": "#8c8c8c", "tickColor": "#8c8c8c", "tickSize": 4, "labelFontSize": 16, "labelColor": "#4d4d4d",
                 "titleFontSize": 16, "titleFontWeight": "normal", "titleColor": "#1a1a1a", "labelPadding": 3, "titlePadding": 6}},
  "y": {"field": "lo", "type": "quantitative", "scale": {"domain": [0, 3], "nice": false},
        "axis": {"title": "Otolith Weight (mg)", "values": [0,0.5,1,1.5,2,2.5,3], "format": ".1f", "grid": false, "labelFlush": false,
                 "domainColor": "#8c8c8c", "tickColor": "#8c8c8c", "tickSize": 4, "labelFontSize": 16, "labelColor": "#4d4d4d",
                 "titleFontSize": 16, "titleFontWeight": "normal", "titleColor": "#1a1a1a", "labelPadding": 3, "titlePadding": 10}},
  "y2": {"field": "hi"}
 }},
{"data": {"name": "pts"}, "mark": {"type": "circle", "color": "#000000", "opacity": 0.35, "size": 40, "stroke": "#000000", "strokeWidth": 0.6, "strokeOpacity": 0.25},
 "encoding": {"x": {"field": "age", "type": "quantitative"}, "y": {"field": "wt", "type": "quantitative"}}},
{"data": {"name": "fit"}, "mark": {"type": "line", "color": "#4169e1", "strokeWidth": 4},
 "encoding": {"x": {"field": "age", "type": "quantitative"}, "y": {"field": "fit", "type": "quantitative"}}},
{"data": {"name": "one"}, "mark": {"type": "text", "align": "left", "baseline": "alphabetic", "fontSize": 19, "fontStyle": "italic", "color": "#1a1a1a", "text": "y"},
 "encoding": {"x": {"datum": 0.316}, "y": {"datum": 2.497}}},
{"data": {"name": "one"}, "mark": {"type": "text", "align": "left", "baseline": "alphabetic", "fontSize": 19, "color": "#1a1a1a", "text": "= 0.179 + 0.341 ·"},
 "encoding": {"x": {"datum": 0.435}, "y": {"datum": 2.497}}},
{"data": {"name": "one"}, "mark": {"type": "text", "align": "left", "baseline": "alphabetic", "fontSize": 19, "fontStyle": "italic", "color": "#1a1a1a", "text": "x"},
 "encoding": {"x": {"datum": 1.488}, "y": {"datum": 2.497}}},
{"data": {"name": "one"}, "mark": {"type": "text", "align": "left", "baseline": "alphabetic", "fontSize": 19, "color": "#1a1a1a", "text": ","},
 "encoding": {"x": {"datum": 1.561}, "y": {"datum": 2.497}}},
{"data": {"name": "one"}, "mark": {"type": "text", "align": "left", "baseline": "alphabetic", "fontSize": 19, "fontStyle": "italic", "color": "#1a1a1a", "text": "r"},
 "encoding": {"x": {"datum": 1.653}, "y": {"datum": 2.497}}},
{"data": {"name": "one"}, "mark": {"type": "text", "align": "left", "baseline": "alphabetic", "fontSize": 13, "color": "#1a1a1a", "text": "2"},
 "encoding": {"x": {"datum": 1.705}, "y": {"datum": 2.566}}},
{"data": {"name": "one"}, "mark": {"type": "text", "align": "left", "baseline": "alphabetic", "fontSize": 20, "color": "#1a1a1a", "text": "= 0.819"},
 "encoding": {"x": {"datum": 1.80}, "y": {"datum": 2.497}}}
]
}
